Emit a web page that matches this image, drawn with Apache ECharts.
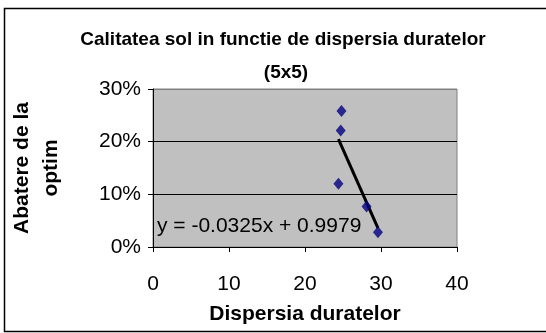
<!DOCTYPE html>
<html>
<head>
<meta charset="utf-8">
<script src="https://cdn.jsdelivr.net/npm/echarts@6/dist/echarts.min.js"></script>
<style>
  html, body { margin: 0; padding: 0; background: #fff; }
  #chart { width: 546px; height: 333px; }
</style>
</head>
<body>
<div id="chart"></div>
<script>
// dispersia duratelor (x) si abaterea de la optim (y)
const dispersia = [24.8, 24.7, 24.4, 28.1, 29.6]
const abatere = [0.258, 0.221, 0.120, 0.077, 0.028]
const xTicks = [0, 10, 20, 30, 40]
const yTicks = [0, 0.1, 0.2, 0.3]
// trendline coefficients (Excel linear fit)
const slope = -0.0325
const intercept = 0.9979

const points = dispersia.map((x, i) => [x, abatere[i]])
const xMin = Math.min(...dispersia)
const xMax = Math.max(...dispersia)
const trend = [xMin, xMax].map((x) => [x, slope * x + intercept])

const font = 'Liberation Sans, Arial, sans-serif'
const chart = echarts.init(document.getElementById('chart'))
chart.setOption({
  animation: false,
  title: [
    {
      text: 'Calitatea sol in functie de dispersia duratelor',
      left: 278,
      top: 25,
      textAlign: 'center',
      textStyle: { fontFamily: font, fontSize: 19, fontWeight: 'bold', color: '#000' }
    },
    {
      text: '(5x5)',
      left: 281,
      top: 58,
      textAlign: 'center',
      textStyle: { fontFamily: font, fontSize: 19, fontWeight: 'bold', color: '#000' }
    }
  ],
  graphic: [
    {
      type: 'rect',
      shape: { x: 4.5, y: 8.5, width: 545, height: 323 },
      style: { fill: null, stroke: '#000', lineWidth: 1.5 },
      silent: true
    },
    {
      type: 'text',
      left: 157,
      top: 216,
      style: { text: 'y = -0.0325x + 0.9979', font: '21px ' + font, fill: '#000' },
      z: 10
    }
  ],
  grid: {
    left: 149,
    right: 89,
    top: 89,
    bottom: 86,
    show: true,
    backgroundColor: '#c0c0c0',
    borderColor: '#808080',
    borderWidth: 1
  },
  xAxis: {
    type: 'value',
    min: xTicks[0],
    max: xTicks[xTicks.length - 1],
    interval: 10,
    name: 'Dispersia duratelor',
    nameLocation: 'middle',
    nameGap: 57,
    nameTextStyle: { fontFamily: font, fontSize: 21, fontWeight: 'bold', color: '#000' },
    axisLine: { lineStyle: { color: '#000', width: 1 } },
    axisTick: { show: true, length: 5, lineStyle: { color: '#000' } },
    axisLabel: { fontFamily: font, fontSize: 21, color: '#000', margin: 27 },
    splitLine: { show: false }
  },
  yAxis: {
    type: 'value',
    min: yTicks[0],
    max: yTicks[yTicks.length - 1],
    interval: 0.1,
    name: 'Abatere de la\noptim',
    nameLocation: 'middle',
    nameGap: 87,
    nameRotate: 90,
    nameTextStyle: {
      fontFamily: font,
      fontSize: 21,
      fontWeight: 'bold',
      color: '#000',
      lineHeight: 29
    },
    axisLine: { show: true, lineStyle: { color: '#000', width: 1 } },
    axisTick: { show: true, length: 5, lineStyle: { color: '#000' } },
    axisLabel: {
      fontFamily: font,
      fontSize: 21,
      color: '#000',
      margin: 12,
      formatter: (v) => Math.round(v * 100) + '%'
    },
    splitLine: { show: true, lineStyle: { color: ['#808080', '#000', '#000', '#808080'], width: 1 } }
  },
  series: [
    {
      type: 'line',
      data: trend,
      showSymbol: false,
      lineStyle: { color: '#000', width: 3 },
      z: 3
    },
    {
      type: 'scatter',
      data: points,
      symbol: 'diamond',
      symbolSize: [10, 12],
      itemStyle: { color: '#000080' },
      z: 4
    }
  ]
})
</script>
</body>
</html>
